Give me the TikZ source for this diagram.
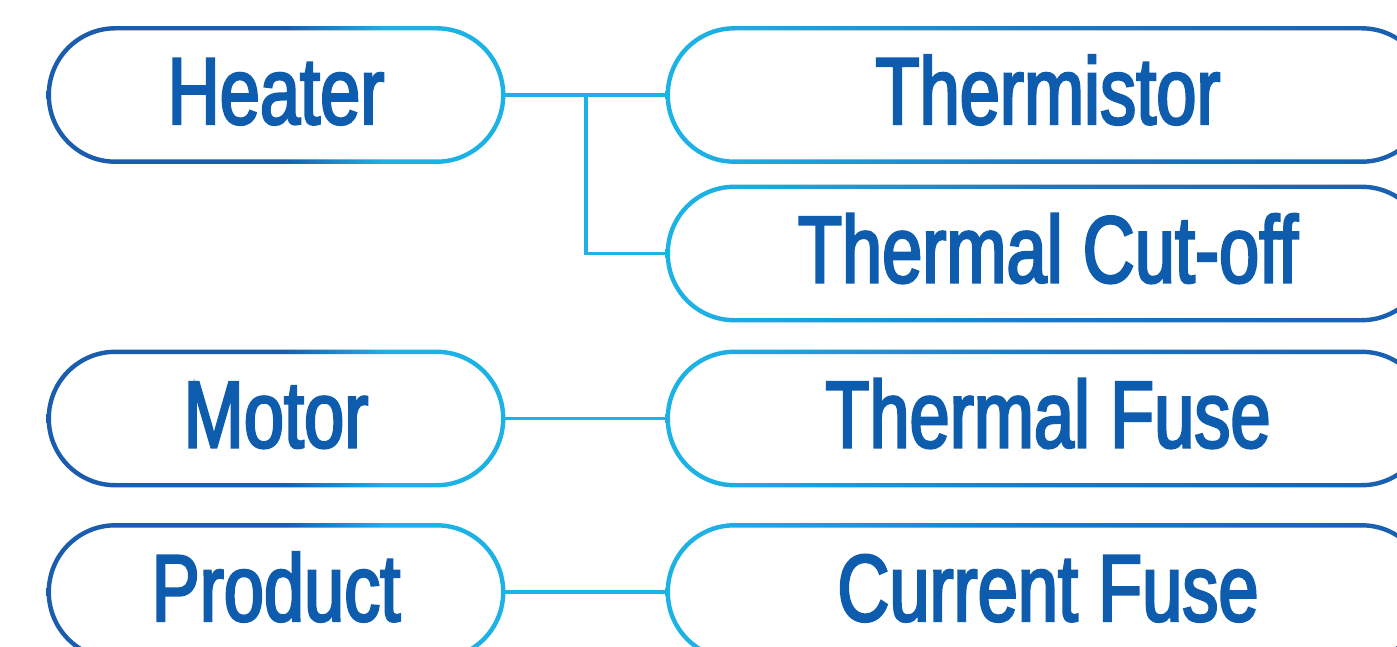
\documentclass[tikz,border=0pt]{standalone}
\usepackage{fontspec}
\setmainfont{Liberation Sans}[FakeStretch=0.76,FakeBold=2.5]
\definecolor{dk}{HTML}{1A5DAF}
\definecolor{md}{HTML}{1B78C4}
\definecolor{lt}{HTML}{1DB2E6}
\definecolor{txt}{HTML}{0E5CAD}
\pgfdeclarehorizontalshading{lgrad}{100bp}{color(0bp)=(dk); color(51bp)=(dk); color(62bp)=(lt); color(100bp)=(lt)}
\pgfdeclarehorizontalshading{rgrad}{100bp}{color(0bp)=(lt); color(27bp)=(lt); color(50bp)=(md); color(75bp)=(dk); color(100bp)=(dk)}
\tikzset{
  boxtext/.style={rectangle, inner sep=0pt, minimum height=133pt, text=txt,
    text height=58pt, text depth=0pt, font=\fontsize{95}{100}\selectfont},
  conn/.style={draw=lt, line width=3.5pt}
}
\newcommand{\pillbox}[6]{%
  \node[boxtext, minimum width=#4pt] (#1) at (#2,#3) {#6};
  \shade[shading=#5, even odd rule]
    ([xshift=-2.2pt,yshift=2.2pt]#1.north west) [rounded corners=68.7pt] rectangle ([xshift=2.2pt,yshift=-2.2pt]#1.south east)
    ([xshift=2.2pt,yshift=-2.2pt]#1.north west) [rounded corners=64.3pt] rectangle ([xshift=-2.2pt,yshift=2.2pt]#1.south east);
}
\begin{document}
\begin{tikzpicture}[x=1pt,y=-1pt]
\useasboundingbox (0,0) rectangle (1397,647);
\clip (0,0) rectangle (1397,647);
\fill[white] (0,0) rectangle (1397,647);
\pillbox{heater}{276}{95}{454}{lgrad}{Heater}
\pillbox{motor}{276}{418.5}{454}{lgrad}{Motor}
\pillbox{product}{276}{592}{454}{lgrad}{Product}
\pillbox{thermistor}{1048}{95}{760}{rgrad}{Thermistor}
\pillbox{cutoff}{1048}{253.5}{760}{rgrad}{Thermal Cut-off}
\pillbox{tfuse}{1048}{418.5}{760}{rgrad}{Thermal Fuse}
\pillbox{cfuse}{1048}{592}{760}{rgrad}{Current Fuse}
\coordinate (br) at (586,95);
\draw[conn] (heater.east) -- (thermistor.west);
\draw[conn] (br) |- (cutoff.west);
\draw[conn] (motor.east) -- (tfuse.west);
\draw[conn] (product.east) -- (cfuse.west);
\end{tikzpicture}
\end{document}
